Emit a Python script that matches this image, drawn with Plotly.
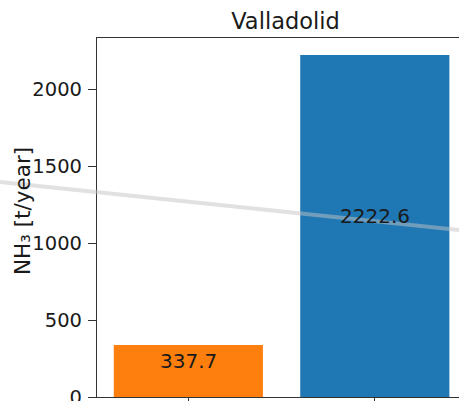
import plotly.graph_objects as go

# NH3 emissions for Valladolid
positions = [0, 1]
values = [337.7, 2222.6]
colors = ["#ff7f0e", "#1f77b4"]
y_ticks = [0, 500, 1000, 1500, 2000]

W, H = 459, 401
L, R, T, B = 97, 0, 38, 4
FONT = "DejaVu Sans"
INK = "#1a1a1a"

fig = go.Figure()
fig.add_trace(go.Bar(
    x=positions, y=values, width=0.8,
    marker=dict(color=colors, line=dict(width=0)),
    hoverinfo="skip",
))

# value labels sitting just above the middle of each bar
for xpos, v in zip(positions, values):
    fig.add_annotation(
        x=xpos, y=v / 2, text=f"{v:.1f}", showarrow=False,
        yanchor="bottom", yshift=-4,
        font=dict(family=FONT, size=20, color=INK),
    )

# y-axis label
fig.add_annotation(
    xref="paper", yref="paper", x=(22 - L) / (W - L - R),
    y=1 - (211 - T) / (H - T - B),
    text="NH₃ [t/year]", textangle=-90, showarrow=False,
    xanchor="center", yanchor="middle",
    font=dict(family=FONT, size=21.5, color=INK),
)

# faint diagonal stroke across the figure
fig.add_shape(
    type="line", xref="paper", yref="paper",
    x0=(0 - L) / (W - L - R), y0=1 - (182 - T) / (H - T - B),
    x1=(W - L) / (W - L - R), y1=1 - (230 - T) / (H - T - B),
    line=dict(color="rgba(195,195,195,0.5)", width=4),
    layer="above",
)

fig.update_layout(
    width=W, height=H,
    margin=dict(l=L, r=R, t=T, b=B, pad=0, autoexpand=False),
    paper_bgcolor="white", plot_bgcolor="white",
    showlegend=False,
    font=dict(family=FONT, size=20, color=INK),
    title=dict(
        text="Valladolid", x=285.5 / W, xanchor="center",
        y=1 - 21 / H, yanchor="middle", yref="container",
        font=dict(family=FONT, size=22.5, color=INK),
    ),
    xaxis=dict(
        range=[-0.49, (W - 189) / 186], tickvals=positions,
        showticklabels=False, ticks="outside", ticklen=7, tickwidth=1.2,
        tickcolor="#333", showline=True, linecolor="#333", linewidth=1.2,
        mirror=True, showgrid=False, zeroline=False, fixedrange=True,
        automargin=False,
    ),
    yaxis=dict(
        range=[0, 2333.7], tickvals=y_ticks,
        ticks="outside", ticklen=8, tickwidth=1.2, tickcolor="#333",
        showline=True, linecolor="#333", linewidth=1.2, mirror=False,
        showgrid=False, zeroline=False, ticklabelstandoff=2,
        ticklabeloverflow="allow", automargin=False,
        tickfont=dict(family=FONT, size=19.5, color=INK),
    ),
)

fig.write_html("out.html")
